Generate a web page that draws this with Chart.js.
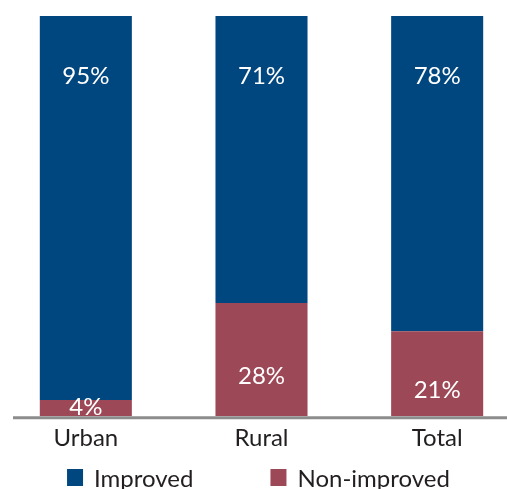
<!DOCTYPE html>
<html>
<head>
<meta charset="utf-8">
<script src="https://cdn.jsdelivr.net/npm/chart.js@4"></script>
<style>
  html, body { margin: 0; padding: 0; overflow: hidden; background: #fff; width: 507px; height: 489px; }
  #wrap { position: absolute; left: -2px; top: 0; width: 527px; height: 489px; }
</style>
</head>
<body>
<div id="wrap"><canvas id="c"></canvas></div>
<script>
const categories = ['Urban', 'Rural', 'Total'];
const improved = [95, 71, 78];
const nonImproved = [4, 28, 21];
const seriesNames = ['Improved', 'Non-improved'];

const BLUE = '#00467f';
const RED = '#9c4856';
const FONT = 'Lato, "Open Sans", sans-serif';

const barLabels = {
  id: 'barLabels',
  afterDatasetsDraw(chart) {
    const ctx = chart.ctx;
    ctx.save();
    ctx.fillStyle = '#ffffff';
    ctx.font = '24px ' + FONT;
    ctx.textAlign = 'center';
    ctx.textBaseline = 'middle';
    chart.data.datasets.forEach((ds, di) => {
      const meta = chart.getDatasetMeta(di);
      meta.data.forEach((bar, i) => {
        const top = Math.min(bar.y, bar.base);
        const bottom = Math.max(bar.y, bar.base);
        let y;
        if (ds.label === 'Improved') {
          y = top + 60;
        } else {
          y = Math.min((top + bottom) / 2 + 17, bottom - 9);
        }
        ctx.fillText(ds.data[i] + '%', bar.x, y);
      });
    });
    // x axis line
    const area = chart.chartArea;
    ctx.strokeStyle = '#8c8c8c';
    ctx.lineWidth = 3;
    ctx.beginPath();
    ctx.moveTo(15, area.bottom + 1.5);
    ctx.lineTo(chart.width, area.bottom + 1.5);
    ctx.stroke();

    // legend (Improved first, then Non-improved)
    ctx.font = '24px ' + FONT;
    ctx.textAlign = 'left';
    ctx.fillStyle = '#231f20';
    const items = [
      { text: seriesNames[0], color: BLUE },
      { text: seriesNames[1], color: RED }
    ];
    const box = 16, gapText = 11, gapItem = 77;
    let total = 0;
    items.forEach((it, k) => {
      it.w = ctx.measureText(it.text).width;
      total += box + gapText + it.w + (k ? 0 : gapItem);
    });
    let x = chart.width / 2 - 3 - total / 2;
    const yBox = 469, yText = 479;
    items.forEach(it => {
      ctx.fillStyle = it.color;
      ctx.fillRect(x, yBox, box, 17);
      ctx.fillStyle = '#231f20';
      ctx.fillText(it.text, x + box + gapText, yText);
      x += box + gapText + it.w + gapItem;
    });
    ctx.restore();
  }
};

new Chart(document.getElementById('c'), {
  type: 'bar',
  data: {
    labels: categories,
    datasets: [
      { label: seriesNames[1], data: nonImproved, backgroundColor: RED, borderWidth: 0 },
      { label: seriesNames[0], data: improved, backgroundColor: BLUE, borderWidth: 0 }
    ]
  },
  options: {
    responsive: true,
    maintainAspectRatio: false,
    animation: false,
    layout: { padding: { top: 12, left: 0, right: 0, bottom: 36 } },
    datasets: { bar: { barPercentage: 1, categoryPercentage: 0.524 } },
    scales: {
      x: {
        stacked: true,
        grid: { display: false },
        border: { display: false },
        ticks: { color: '#231f20', font: { family: FONT, size: 24 }, padding: 0 }
      },
      y: {
        stacked: true,
        display: false,
        min: 0,
        max: 100
      }
    },
    plugins: {
      title: { display: false },
      tooltip: { enabled: false },
      legend: { display: false }
    }
  },
  plugins: [barLabels]
});
</script>
</body>
</html>
